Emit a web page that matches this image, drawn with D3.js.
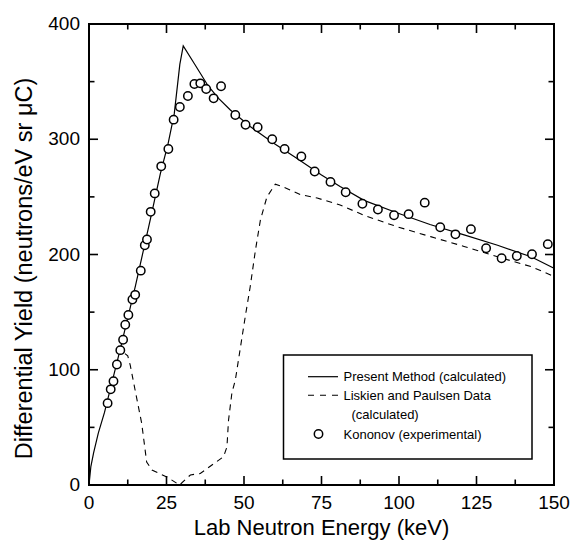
<!DOCTYPE html>
<html>
<head>
<meta charset="utf-8">
<script src="https://cdn.jsdelivr.net/npm/d3@7"></script>
<style>
  html, body { margin: 0; padding: 0; background: #fff; }
  svg { display: block; }
</style>
</head>
<body>
<svg id="chart" width="572" height="540"></svg>
<script>
// Kononov experimental points: lab neutron energy (keV) and differential yield
const kononovEnergy = [6.0, 7.0, 7.9, 9.0, 10.1, 11.0, 11.7, 12.7, 14.0, 14.9,
  16.7, 18.0, 18.7, 19.9, 21.2, 23.3, 25.6, 27.3, 29.3, 31.9,
  34.0, 35.9, 37.8, 40.2, 42.6, 47.2, 50.5, 54.4, 59.1, 63.1,
  68.5, 72.8, 77.9, 82.8, 88.2, 93.2, 98.4, 103.1, 108.3, 113.3,
  118.2, 123.2, 128.1, 133.1, 138.0, 142.9, 148.0];
const kononovYield = [71, 83, 90, 104.5, 117, 126, 139, 147.5, 161, 165,
  186, 208, 213, 237, 253, 276.5, 291.5, 317, 328, 337.5,
  348, 348.5, 343.6, 335.5, 346, 321, 312.6, 310.4, 300, 291.5,
  285, 272, 263, 254, 244, 239, 234, 235, 245, 223.6,
  217.5, 222, 205.4, 196.7, 198.7, 200.2, 209];

// Present method (calculated)
const presentEnergy = [0, 0.6, 1.5, 3, 5, 10, 15, 20, 23, 25.5, 27.5, 29.3, 30.4,
  34, 38.5, 41.8, 45.6, 52, 59.6, 67, 75, 81, 88.7, 99.5, 110, 121, 131.8, 142.6, 150];
const presentYield = [0, 16, 28, 45, 63, 117, 173, 233, 270, 296, 322, 365, 381,
  365.5, 346, 335.5, 325.4, 311, 296.5, 283.5, 269, 259, 247, 236, 226, 217, 208, 198, 188];

// Liskien and Paulsen data (calculated)
const liskienEnergy = [11.6, 12.5, 13.3, 14.9, 17, 18.6, 20.3, 25.1, 29.2, 32.7, 35.9,
  43.4, 44.5, 45, 46.1, 47.2, 50.4, 52, 53.7, 55.3, 57.4, 60.1, 62.3, 68.2, 73.6,
  81, 88.7, 99.5, 110.2, 121, 131.8, 142.6, 150];
const liskienYield = [114, 112, 104, 82, 53.5, 20, 13, 7, 0, 8.7, 10,
  24.6, 33, 56, 80, 91, 146, 172, 204, 230, 250, 261, 259, 252, 249,
  243, 234, 224, 215.5, 207, 198, 189.5, 181];

// Axis ticks
const xMajorTicks = [0, 25, 50, 75, 100, 125, 150];
const xMinorTicks = [12.5, 37.5, 62.5, 87.5, 112.5, 137.5];
const yMajorTicks = [0, 100, 200, 300, 400];
const yMinorTicks = [50, 150, 250, 350];

// Texts
const xTitle = "Lab Neutron Energy (keV)";
const yTitle = "Differential Yield (neutrons/eV sr \u03BCC)";
const legendLabels = ["Present Method (calculated)", "Liskien and Paulsen Data", "(calculated)", "Kononov (experimental)"];

const FONT = "'Liberation Sans', Arial, Helvetica, sans-serif";
const svg = d3.select("#chart");

const x = d3.scaleLinear().domain([0, 150]).range([89, 554]);
const y = d3.scaleLinear().domain([0, 400]).range([485, 24]);

function styleAxis(g, labelSize) {
  g.attr("font-family", FONT).attr("font-size", labelSize);
  g.select(".domain").attr("stroke", "#000").attr("stroke-width", 2).attr("stroke-linecap", "square");
  g.selectAll(".tick line").attr("stroke", "#000").attr("stroke-width", 1.6);
  g.selectAll(".tick text").attr("fill", "#000");
}

// Bottom axis
const gxMinor = svg.append("g").attr("transform", `translate(0,${y(0)})`)
  .call(d3.axisBottom(x).tickValues(xMinorTicks).tickSizeInner(-5.5).tickSizeOuter(0).tickFormat("").offset(0));
styleAxis(gxMinor, 19);
const gx = svg.append("g").attr("transform", `translate(0,${y(0)})`)
  .call(d3.axisBottom(x).tickValues(xMajorTicks).tickSizeInner(-9).tickSizeOuter(0).tickPadding(10.5).tickFormat(d3.format("d")).offset(0));
styleAxis(gx, 19);

// Top axis
const gtMinor = svg.append("g").attr("transform", `translate(0,${y(400)})`)
  .call(d3.axisTop(x).tickValues(xMinorTicks).tickSizeInner(-5.5).tickSizeOuter(0).tickFormat("").offset(0));
styleAxis(gtMinor, 19);
const gt = svg.append("g").attr("transform", `translate(0,${y(400)})`)
  .call(d3.axisTop(x).tickValues(xMajorTicks).tickSizeInner(-9).tickSizeOuter(0).tickFormat("").offset(0));
styleAxis(gt, 19);

// Left axis
const gyMinor = svg.append("g").attr("transform", `translate(${x(0)},0)`)
  .call(d3.axisLeft(y).tickValues(yMinorTicks).tickSizeInner(-5.5).tickSizeOuter(0).tickFormat("").offset(0));
styleAxis(gyMinor, 19);
const gy = svg.append("g").attr("transform", `translate(${x(0)},0)`)
  .call(d3.axisLeft(y).tickValues(yMajorTicks).tickSizeInner(-9).tickSizeOuter(0).tickPadding(9).tickFormat(d3.format("d")).offset(0));
styleAxis(gy, 19);

// Right axis
const grMinor = svg.append("g").attr("transform", `translate(${x(150)},0)`)
  .call(d3.axisRight(y).tickValues(yMinorTicks).tickSizeInner(-5.5).tickSizeOuter(0).tickFormat("").offset(0));
styleAxis(grMinor, 19);
const gr = svg.append("g").attr("transform", `translate(${x(150)},0)`)
  .call(d3.axisRight(y).tickValues(yMajorTicks).tickSizeInner(-9).tickSizeOuter(0).tickFormat("").offset(0));
styleAxis(gr, 19);

// Axis titles
svg.append("text")
  .attr("x", (x(0) + x(150)) / 2).attr("y", 535)
  .attr("text-anchor", "middle")
  .attr("font-family", FONT).attr("font-size", 22).attr("fill", "#000")
  .text(xTitle);

svg.append("text")
  .attr("transform", "translate(32,268.5) rotate(-90)")
  .attr("text-anchor", "middle")
  .attr("font-family", FONT).attr("font-size", 23.5).attr("fill", "#000")
  .text(yTitle);

// Curves
const present = presentEnergy.map((e, i) => [e, presentYield[i]]);
const liskien = liskienEnergy.map((e, i) => [e, liskienYield[i]]);
const line = d3.line().x(d => x(d[0])).y(d => y(d[1]));

svg.append("path").datum(liskien)
  .attr("d", line).attr("fill", "none")
  .attr("stroke", "#000").attr("stroke-width", 1.1)
  .attr("stroke-dasharray", "6,5");

svg.append("path").datum(present)
  .attr("d", line).attr("fill", "none")
  .attr("stroke", "#000").attr("stroke-width", 1.2);

// Experimental points
svg.append("g").selectAll("circle")
  .data(kononovEnergy.map((e, i) => [e, kononovYield[i]]))
  .join("circle")
  .attr("cx", d => x(d[0])).attr("cy", d => y(d[1]))
  .attr("r", 4.2)
  .attr("fill", "#fff").attr("stroke", "#000").attr("stroke-width", 1.5);

// Legend
const legend = svg.append("g");
legend.append("rect")
  .attr("x", 283.5).attr("y", 355).attr("width", 248.5).attr("height", 104)
  .attr("fill", "#fff").attr("stroke", "#000").attr("stroke-width", 1.5);

const rows = [376.7, 395.3, 414.3, 434];
legend.append("line")
  .attr("x1", 308).attr("x2", 338).attr("y1", rows[0]).attr("y2", rows[0])
  .attr("stroke", "#000").attr("stroke-width", 1.2);
legend.append("line")
  .attr("x1", 308).attr("x2", 338).attr("y1", rows[1]).attr("y2", rows[1])
  .attr("stroke", "#000").attr("stroke-width", 1.1).attr("stroke-dasharray", "6,6");
legend.append("circle")
  .attr("cx", 318.5).attr("cy", rows[3]).attr("r", 4.2)
  .attr("fill", "#fff").attr("stroke", "#000").attr("stroke-width", 1.5);

const textX = [343.5, 343.5, 351.5, 343.5];
legend.selectAll("text.lab")
  .data(legendLabels)
  .join("text")
  .attr("class", "lab")
  .attr("x", (d, i) => textX[i])
  .attr("y", (d, i) => rows[i])
  .attr("dy", "0.35em")
  .attr("font-family", FONT).attr("font-size", 13).attr("fill", "#000")
  .text(d => d);
</script>
</body>
</html>
